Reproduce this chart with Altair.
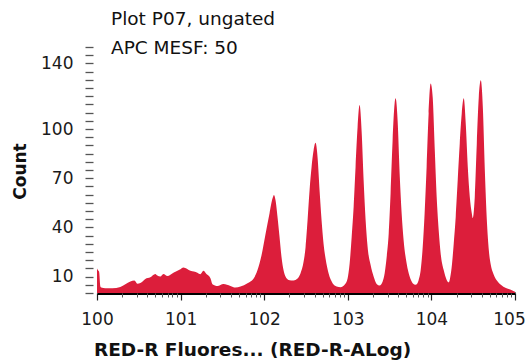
import altair as alt
import pandas as pd

# Histogram channels: position in decades (log10 of fluorescence) and event count
decade_pos = [
    0.000, 0.010, 0.025, 0.040, 0.051, 0.099, 0.183, 0.279, 0.399, 0.447,
    0.483, 0.519, 0.578, 0.638, 0.698, 0.722, 0.758, 0.794, 0.842, 0.914,
    0.998, 1.034, 1.118, 1.201, 1.237, 1.273, 1.309, 1.357, 1.381, 1.441,
    1.513, 1.596, 1.656, 1.716, 1.800, 1.872, 1.920, 1.968, 2.016, 2.064,
    2.100, 2.117, 2.135, 2.159, 2.183, 2.207, 2.231, 2.255, 2.291, 2.351,
    2.399, 2.435, 2.471, 2.495, 2.519, 2.543, 2.567, 2.591, 2.614, 2.638,
    2.662, 2.686, 2.710, 2.734, 2.770, 2.818, 2.866, 2.914, 2.962, 2.998,
    3.022, 3.046, 3.070, 3.093, 3.117, 3.141, 3.165, 3.189, 3.213, 3.237,
    3.273, 3.309, 3.345, 3.381, 3.417, 3.441, 3.465, 3.489, 3.512, 3.536,
    3.560, 3.572, 3.596, 3.620, 3.644, 3.668, 3.704, 3.740, 3.776, 3.812,
    3.848, 3.872, 3.896, 3.919, 3.943, 3.967, 3.991, 4.015, 4.039, 4.063,
    4.087, 4.111, 4.147, 4.183, 4.207, 4.219, 4.243, 4.267, 4.291, 4.315,
    4.339, 4.363, 4.387, 4.411, 4.435, 4.459, 4.483, 4.495, 4.519, 4.543,
    4.567, 4.591, 4.615, 4.639, 4.663, 4.687, 4.711, 4.747, 4.783, 4.831,
    4.891, 4.950, 4.986, 5.000,
]
counts = [
    15.0, 14.0, 13.0, 4.0, 3.3, 2.9, 2.9, 3.7, 7.0, 7.6,
    5.7, 6.1, 8.6, 9.6, 11.6, 10.6, 10.0, 11.6, 10.4, 12.4,
    14.5, 15.5, 13.5, 12.4, 11.5, 13.5, 11.6, 9.0, 5.4, 4.3,
    5.5, 4.3, 3.3, 4.0, 6.0, 8.7, 14.0, 23.0, 36.0, 48.6,
    57.7, 59.8, 56.7, 46.5, 34.4, 22.0, 14.0, 10.0, 8.0, 7.6,
    8.8, 12.0, 19.0, 28.0, 44.5, 62.8, 77.0, 87.0, 91.6, 83.0,
    62.8, 44.5, 30.0, 21.0, 12.0, 6.0, 4.0, 3.5, 5.0, 9.0,
    18.0, 34.0, 52.6, 77.0, 101.0, 114.6, 99.0, 69.0, 44.5, 28.0,
    17.0, 10.0, 5.5, 4.5, 7.0, 12.0, 22.0, 36.0, 61.0, 93.0,
    115.6, 118.7, 105.0, 73.0, 48.6, 32.0, 18.0, 10.0, 6.0, 5.0,
    8.0, 14.0, 28.0, 48.6, 77.0, 109.5, 127.8, 119.6, 89.0, 58.7,
    38.4, 24.0, 14.0, 8.0, 6.5, 8.0, 16.0, 30.0, 46.5, 69.0,
    91.0, 109.5, 118.7, 103.0, 77.0, 58.7, 48.6, 45.6, 58.7, 91.0,
    119.6, 129.8, 113.6, 75.0, 44.5, 26.0, 17.0, 11.0, 7.6, 5.0,
    3.0, 2.0, 1.0, 0.8,
]

title_lines = ["Plot P07, ungated", "APC MESF: 50"]
x_title = "RED-R Fluores... (RED-R-ALog)"
y_title = "Count"
y_labels = [10, 40, 70, 100, 140]

df = pd.DataFrame({"fluor": [10 ** d for d in decade_pos], "count": counts})

FONT = "DejaVu Sans"
FILL = "#DC1E3B"

decades = [1, 10, 100, 1000, 10000, 100000]
minor = [m * 10 ** k for k in range(5) for m in range(2, 10)]

x_scale = alt.Scale(type="log", domain=[1, 100000], nice=False)
y_scale = alt.Scale(domain=[0, 150], nice=False, zero=True)

main = alt.Chart(df).mark_area(
    color=FILL, interpolate="monotone", clip=True
).encode(
    x=alt.X(
        "fluor:Q",
        scale=x_scale,
        axis=alt.Axis(
            orient="bottom",
            values=decades,
            labelExpr="'10' + round(log(datum.value) / LN10)",
            labelFlush=False,
            labelAlign="center",
            # keep the last decade label inside the canvas
            labelOffset={"condition": {"test": "datum.value >= 100000", "value": -6}, "value": 0},
            grid=False,
            domain=True,
            domainColor="#000000",
            domainWidth=3,
            tickColor="#222222",
            tickSize=7,
            tickWidth=1.2,
            labelFont=FONT,
            labelFontSize=17,
            labelColor="#1a1a1a",
            labelPadding=11,
            title=x_title,
            titleFont=FONT,
            titleFontSize=18.5,
            titleFontWeight="bold",
            titleColor="#111111",
            titleX=155,
            titleY=56,
            titleAlign="center",
            titleBaseline="middle",
        ),
    ),
    y=alt.Y(
        "count:Q",
        scale=y_scale,
        axis=alt.Axis(
            values=list(range(0, 155, 5)),
            labelExpr="indexof(" + str(y_labels) + ", datum.value) >= 0 ? datum.label : ''",
            labelFlush=False,
            grid=False,
            domain=False,
            offset=4,
            tickColor="#555555",
            tickSize=8,
            tickWidth=1.3,
            labelFont=FONT,
            labelFontSize=17,
            labelColor="#1a1a1a",
            labelPadding=12,
            title=y_title,
            titleFont=FONT,
            titleFontSize=17,
            titleFontWeight="bold",
            titleColor="#111111",
            titleAngle=-90,
            titleX=-73,
            titleY=124,
            titleAlign="center",
            titleBaseline="middle",
        ),
    ),
)

# Second, invisible layer that only carries the minor decade ticks
minor_ticks = alt.Chart(df).mark_point(opacity=0).encode(
    x=alt.X(
        "fluor:Q",
        scale=x_scale,
        axis=alt.Axis(
            orient="bottom",
            values=minor,
            labels=False,
            grid=False,
            domain=False,
            tickColor="#555555",
            tickSize=4,
            tickWidth=1,
            title=None,
        ),
    ),
    y=alt.value(0),
)

line1 = alt.Chart(pd.DataFrame({"t": [title_lines[0]]})).mark_text(
    align="left", baseline="middle", font=FONT, fontSize=18.5, color="#111111"
).encode(text="t:N", x=alt.value(14), y=alt.value(-28))

line2 = alt.Chart(pd.DataFrame({"t": [title_lines[1]]})).mark_text(
    align="left", baseline="middle", font=FONT, fontSize=18.5, color="#111111"
).encode(text="t:N", x=alt.value(14), y=alt.value(1))

chart = (
    alt.layer(main, minor_ticks, line1, line2)
    .resolve_axis(x="independent")
    .properties(
        width=418,
        height=246,
        autosize=alt.AutoSizeParams(type="none"),
        padding={"left": 97, "top": 47, "right": 10, "bottom": 67},
    )
    .configure_view(stroke=None)
)

chart.save("out.html", embed_options={"renderer": "svg", "actions": False})
